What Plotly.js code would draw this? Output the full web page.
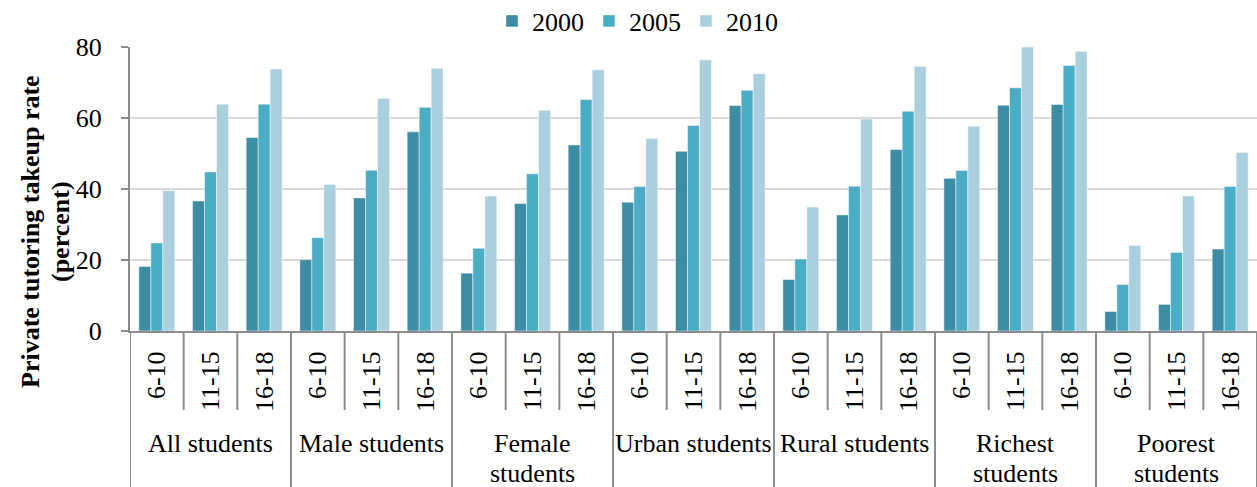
<!DOCTYPE html>
<html>
<head>
<meta charset="utf-8">
<script src="https://cdn.plot.ly/plotly-3.0.1.min.js"></script>
<style>html,body{margin:0;padding:0;background:#fff;}#chart{width:1257px;height:487px;}</style>
</head>
<body>
<div id="chart"></div>
<script>
// ---- data ----
var groups = ['All students', 'Male students', 'Female<br>students', 'Urban students', 'Rural students', 'Richest<br>students', 'Poorest<br>students'];
var ages = ['6-10', '11-15', '16-18'];
var years = ['2000', '2005', '2010'];
var values2000 = [18.2, 36.6, 54.5, 20.1, 37.5, 56.1, 16.3, 35.9, 52.4, 36.3, 50.6, 63.5, 14.5, 32.7, 51.1, 43.0, 63.6, 63.8, 5.5, 7.5, 23.1];
var values2005 = [24.8, 44.8, 63.9, 26.3, 45.3, 63.0, 23.3, 44.3, 65.2, 40.7, 57.9, 67.8, 20.3, 40.8, 61.9, 45.2, 68.5, 74.8, 13.1, 22.1, 40.7];
var values2010 = [39.6, 63.9, 73.8, 41.3, 65.5, 74.0, 38.0, 62.2, 73.6, 54.2, 76.4, 72.5, 34.9, 59.7, 74.5, 57.7, 80.0, 78.8, 24.1, 38.0, 50.3];
var yTitleLines = ['Private tutoring takeup rate', '(percent)'];

// ---- styling ----
var colors = ['#3C8CA3', '#4BACC6', '#AACFDD'];
var FONT = "'Liberation Serif', 'Times New Roman', serif";
var W = 1257, H = 487;
var M = {l: 130, r: 0, t: 47, b: 156};
var plotH = H - M.t - M.b, plotW = W - M.l - M.r;
function py(pix) { return (H - M.b - pix) / plotH; }
function px(pix) { return (pix - M.l) / plotW; }

// category keys
var keys = [], tickText = [];
groups.forEach(function (g) {
  ages.forEach(function (a) { keys.push(g.replace('<br>', ' ') + ' ' + a); tickText.push(a); });
});
var series = [values2000, values2005, values2010];
var traces = years.map(function (yr, k) {
  return {
    type: 'bar', name: yr, x: keys, y: series[k],
    marker: {color: colors[k], line: {color: 'rgba(255,255,255,0.6)', width: 0.8}},
    hoverinfo: 'x+y+name'
  };
});

// dividers and group labels
var shapes = [], annotations = [];
var axisCol = '#8C8C8C';
for (var i = 0; i <= keys.length; i++) {
  var isGroupEdge = (i % ages.length === 0);
  shapes.push({
    type: 'line', xref: 'x', yref: 'paper', x0: i - 0.5, x1: i - 0.5,
    y0: 0, y1: isGroupEdge ? py(H + 2) : py(410),
    line: {color: axisCol, width: 2}
  });
}
groups.forEach(function (g, gi) {
  var lines = g.split('<br>');
  lines.forEach(function (ln, li) {
    annotations.push({
      xref: 'x', yref: 'paper', x: gi * ages.length + (ages.length - 1) / 2, y: py(443 + 30 * li),
      xanchor: 'center', yanchor: 'middle', showarrow: false, text: ln,
      font: {family: FONT, size: 26, color: '#000'}
    });
  });
});
yTitleLines.forEach(function (t, li) {
  annotations.push({
    xref: 'paper', yref: 'paper', x: px(30 + 30 * li), y: py(232),
    xanchor: 'center', yanchor: 'middle', showarrow: false, textangle: -90,
    text: '<b>' + t + '</b>', font: {family: FONT, size: 26, color: '#000'}
  });
});

var layout = {
  width: W, height: H,
  margin: M,
  paper_bgcolor: '#fff', plot_bgcolor: '#fff',
  font: {family: FONT, size: 26, color: '#000'},
  barmode: 'group', bargap: 0.33, bargroupgap: 0,
  showlegend: true,
  legend: {
    orientation: 'h', xref: 'container', yref: 'container',
    x: 492 / W, xanchor: 'left', y: 1 - 21 / H, yanchor: 'middle',
    font: {family: FONT, size: 26, color: '#000'}, bgcolor: 'rgba(0,0,0,0)'
  },
  xaxis: {
    type: 'category', tickvals: keys, ticktext: tickText, tickangle: -90,
    showline: true, linecolor: axisCol, linewidth: 2, ticks: '', showgrid: false,
    tickfont: {family: FONT, size: 26, color: '#000'}, ticklabelstandoff: 8,
    range: [-0.5, keys.length - 0.5], fixedrange: true
  },
  yaxis: {
    range: [0, 80], dtick: 20, tick0: 0, showline: true, linecolor: axisCol, linewidth: 2,
    ticks: 'outside', ticklen: 7, tickwidth: 2, tickcolor: axisCol,
    showgrid: true, gridcolor: '#D9D9D9', gridwidth: 2, zeroline: false,
    tickfont: {family: FONT, size: 26, color: '#000'}, ticklabelstandoff: 14, fixedrange: true
  },
  shapes: shapes,
  annotations: annotations
};
Plotly.newPlot('chart', traces, layout, {displayModeBar: false, staticPlot: true});
</script>
</body>
</html>
